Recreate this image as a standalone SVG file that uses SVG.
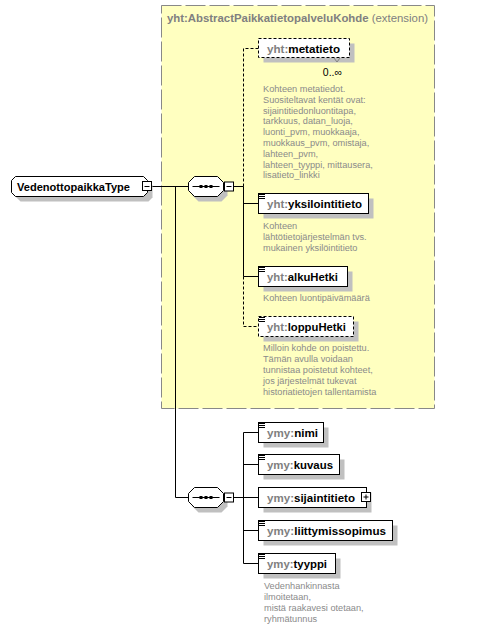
<svg xmlns="http://www.w3.org/2000/svg" width="477" height="629" viewBox="0 0 477 629">
<style>
.lbl{font-family:"Liberation Sans",Arial,sans-serif;font-size:11.5px;font-weight:bold;fill:#000}
.pfx{fill:#808080}
.ttl{font-family:"Liberation Sans",Arial,sans-serif;font-size:11.5px;fill:#808080}
.desc{font-family:"Liberation Sans",Arial,sans-serif;font-size:9.2px;fill:#8a8a8a}
.card{font-family:"Liberation Sans",Arial,sans-serif;font-size:10.5px;fill:#000}
.box{fill:#fff;stroke:#000;stroke-width:1}
.opt{stroke-dasharray:3,2}
.shadow{fill:#c0c0c0}
.ln{stroke:#000;stroke-width:1;fill:none}
.dl{stroke:#000;stroke-width:1;fill:none;stroke-dasharray:3,2}
.pm{fill:#fff;stroke:#000;stroke-width:1}
</style>
<defs>
<path id="icon" d="M0,0.5h6M0,2.5h6M0,4.5h6" stroke="#000" stroke-width="1" fill="none"/>
<path id="oct" d="M6,0H29L35,6V14L29,20H6L0,14V6Z"/>
<g id="seq">
<use href="#oct" transform="translate(4,5)" class="shadow"/>
<use href="#oct" class="box"/>
<path d="M4,10H31" class="ln"/>
<rect x="11" y="8.5" width="3" height="3" fill="#000"/>
<rect x="16" y="8.5" width="3" height="3" fill="#000"/>
<rect x="21" y="8.5" width="3" height="3" fill="#000"/>
<rect x="36" y="5.5" width="9" height="9" class="pm"/>
<path d="M38,10H43" class="ln"/>
</g>
</defs>

<g id="extension">
<rect x="161.5" y="5.5" width="273" height="403" fill="#ffffc0" stroke="#888888" stroke-dasharray="20,4"/>
<text class="ttl" x="167" y="22" textLength="261" lengthAdjust="spacingAndGlyphs"><tspan font-weight="bold">yht:AbstractPaikkatietopalveluKohde</tspan> (extension)</text>
</g>

<g id="connectors">
<path class="ln" d="M152,186.5H188.5"/>
<path class="ln" d="M175.5,186.5V497.5H188.5"/>
<path class="ln" d="M233.5,186.5H243.5V276.5"/>
<path class="dl" d="M243.5,186.5V48.5H258.5"/>
<path class="ln" d="M243.5,203.5H258.5M243.5,276.5H258.5"/>
<path class="dl" d="M243.5,276.5V326.5H258.5"/>
<path class="ln" d="M233.5,497.5H243.5M243.5,432.5V563.5"/>
<path class="ln" d="M243.5,432.5H258.5M243.5,464.5H258.5M243.5,497.5H258.5M243.5,530.5H258.5M243.5,563.5H258.5"/>
</g>

<g id="root">
<path class="shadow" d="M20.5,181.5H148.5L152.5,185.5V197.5L148.5,201.5H20.5L16.5,197.5V185.5Z"/>
<path class="box" d="M15.5,176.5H143.5L147.5,180.5V192.5L143.5,196.5H15.5L11.5,192.5V180.5Z"/>
<text class="lbl" x="17" y="190.5" textLength="113" lengthAdjust="spacingAndGlyphs">VedenottopaikkaType</text>
<rect x="142.5" y="181.5" width="9" height="9" class="pm"/>
<path d="M144.5,186.5H149.5" class="ln"/>
</g>

<g id="sequence1" transform="translate(188.5,176.5)"><use href="#seq"/></g>
<g id="sequence2" transform="translate(188.5,487.5)"><use href="#seq"/></g>

<g id="metatieto">
<rect x="263.5" y="43.5" width="91" height="19" class="shadow"/>
<rect x="258.5" y="38.5" width="91" height="19" class="box opt"/>
<path d="M334,58l3,4l3,-4" stroke="#808080" fill="none"/>
<text class="lbl" x="267" y="52.5" textLength="73" lengthAdjust="spacingAndGlyphs"><tspan class="pfx">yht:</tspan>metatieto</text>
<text class="card" x="342" y="75.5" text-anchor="end">0..∞</text>
<text class="desc" x="263"><tspan x="263" y="92">Kohteen metatiedot.</tspan><tspan x="263" y="102.8">Suositeltavat kentät ovat:</tspan><tspan x="263" y="113.6">sijaintitiedonluontitapa,</tspan><tspan x="263" y="124.4">tarkkuus, datan_luoja,</tspan><tspan x="263" y="135.2">luonti_pvm, muokkaaja,</tspan><tspan x="263" y="146">muokkaus_pvm, omistaja,</tspan><tspan x="263" y="156.8">lahteen_pvm,</tspan><tspan x="263" y="167.6">lahteen_tyyppi, mittausera,</tspan><tspan x="263" y="178.4">lisatieto_linkki</tspan></text>
</g>

<g id="yksilointitieto">
<rect x="263.5" y="198.5" width="110" height="20" class="shadow"/>
<rect x="258.5" y="193.5" width="110" height="20" class="box"/>
<use href="#icon" x="259" y="194"/>
<text class="lbl" x="267" y="207.5" textLength="95" lengthAdjust="spacingAndGlyphs"><tspan class="pfx">yht:</tspan>yksilointitieto</text>
<text class="desc"><tspan x="263" y="228.5">Kohteen</tspan><tspan x="263" y="239.5">lähtötietojärjestelmän  tvs.</tspan><tspan x="263" y="250.5">mukainen yksilöintitieto</tspan></text>
</g>

<g id="alkuHetki">
<rect x="263.5" y="271.5" width="89" height="20" class="shadow"/>
<rect x="258.5" y="266.5" width="89" height="20" class="box"/>
<use href="#icon" x="259" y="267"/>
<text class="lbl" x="267" y="280.5" textLength="71" lengthAdjust="spacingAndGlyphs"><tspan class="pfx">yht:</tspan>alkuHetki</text>
<text class="desc" x="263" y="300.5">Kohteen luontipäivämäärä</text>
</g>

<g id="loppuHetki">
<rect x="263.5" y="321.5" width="95" height="20" class="shadow"/>
<rect x="258.5" y="316.5" width="95" height="20" class="box opt"/>
<use href="#icon" x="259" y="317"/>
<text class="lbl" x="267" y="330.5" textLength="79" lengthAdjust="spacingAndGlyphs"><tspan class="pfx">yht:</tspan>loppuHetki</text>
<text class="desc"><tspan x="263" y="350.5">Milloin kohde on poistettu.</tspan><tspan x="263" y="361.5">Tämän avulla voidaan</tspan><tspan x="263" y="372.5">tunnistaa poistetut kohteet,</tspan><tspan x="263" y="383.5">jos järjestelmät tukevat</tspan><tspan x="263" y="394.5">historiatietojen tallentamista</tspan></text>
</g>

<g id="nimi">
<rect x="263.5" y="427.5" width="65" height="20" class="shadow"/>
<rect x="258.5" y="422.5" width="65" height="20" class="box"/>
<use href="#icon" x="259" y="423"/>
<text class="lbl" x="267" y="436.5" textLength="51" lengthAdjust="spacingAndGlyphs"><tspan class="pfx">ymy:</tspan>nimi</text>
</g>

<g id="kuvaus">
<rect x="263.5" y="459.5" width="81" height="20" class="shadow"/>
<rect x="258.5" y="454.5" width="81" height="20" class="box"/>
<use href="#icon" x="259" y="455"/>
<text class="lbl" x="267" y="468.5" textLength="66" lengthAdjust="spacingAndGlyphs"><tspan class="pfx">ymy:</tspan>kuvaus</text>
</g>

<g id="sijaintitieto">
<rect x="263.5" y="492.5" width="108" height="20" class="shadow"/>
<rect x="258.5" y="487.5" width="108" height="20" class="box"/>
<text class="lbl" x="267" y="501.5" textLength="88" lengthAdjust="spacingAndGlyphs"><tspan class="pfx">ymy:</tspan>sijaintitieto</text>
<rect x="361.5" y="492.5" width="9" height="9" class="pm"/>
<path d="M363.5,497H368.5M366,494.5V499.5" class="ln"/>
</g>

<g id="liittymissopimus">
<rect x="263.5" y="525.5" width="134" height="20" class="shadow"/>
<rect x="258.5" y="520.5" width="134" height="20" class="box"/>
<use href="#icon" x="259" y="521"/>
<text class="lbl" x="267" y="534.5" textLength="119" lengthAdjust="spacingAndGlyphs"><tspan class="pfx">ymy:</tspan>liittymissopimus</text>
</g>

<g id="tyyppi">
<rect x="263.5" y="558.5" width="77" height="20" class="shadow"/>
<rect x="258.5" y="553.5" width="77" height="20" class="box"/>
<use href="#icon" x="259" y="554"/>
<text class="lbl" x="267" y="567.5" textLength="60" lengthAdjust="spacingAndGlyphs"><tspan class="pfx">ymy:</tspan>tyyppi</text>
<text class="desc"><tspan x="264" y="589">Vedenhankinnasta</tspan><tspan x="264" y="600">ilmoitetaan,</tspan><tspan x="264" y="611">mistä raakavesi otetaan,</tspan><tspan x="264" y="622">ryhmätunnus</tspan></text>
</g>
</svg>
